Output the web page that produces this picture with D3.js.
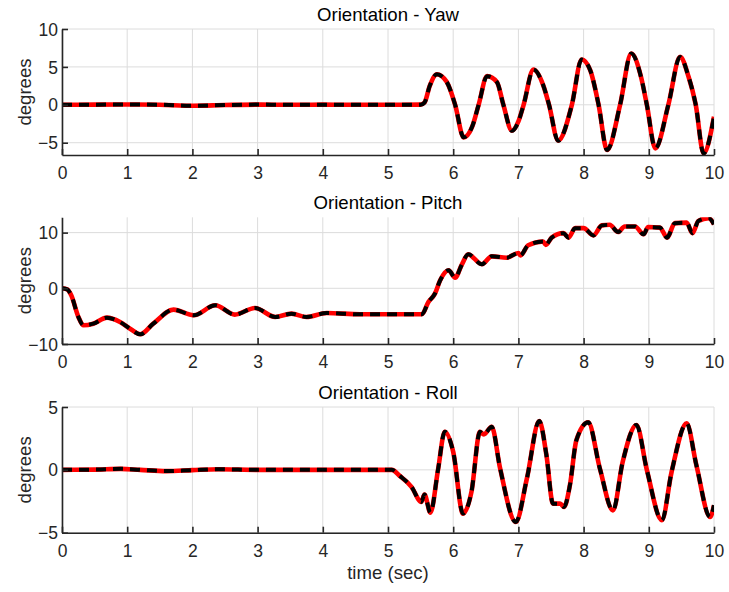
<!DOCTYPE html>
<html>
<head>
<meta charset="utf-8">
<script src="https://cdn.jsdelivr.net/npm/d3@7"></script>
<style>
  html, body { margin: 0; padding: 0; background: #fff; }
  svg { display: block; font-family: "Liberation Sans", Arial, Helvetica, sans-serif; }
</style>
</head>
<body>
<svg id="chart" width="729" height="592"></svg>
<script>
// ---- Data ----
const xTicks = [0, 1, 2, 3, 4, 5, 6, 7, 8, 9, 10];
const titles = ["Orientation - Yaw", "Orientation - Pitch", "Orientation - Roll"];
const yLabel = "degrees";
const xLabel = "time (sec)";

const yawTicks = [-5, 0, 5, 10];
const yawTime = [0, 0.5, 1, 1.5, 2, 2.5, 3, 3.5, 4, 4.5, 5, 5.5, 5.56, 5.64, 5.75, 5.9, 6.03, 6.16, 6.29, 6.39, 6.52, 6.67, 6.77, 6.9, 7.0, 7.08, 7.23, 7.38, 7.47, 7.61, 7.82, 7.97, 8.1, 8.23, 8.36, 8.56, 8.73, 8.88, 8.97, 9.1, 9.3, 9.48, 9.61, 9.72, 9.84, 10];
const yawValues = [0, 0.02, 0.05, 0.01, -0.12, -0.03, 0.03, 0, 0.02, 0, 0, 0.02, 0.3, 2.5, 4.04, 3.03, 0, -4.29, -2.9, 0, 3.78, 3.0, 0, -3.42, -2.2, 0, 4.65, 2.6, 0, -4.73, 0, 5.97, 4.6, 0, -5.96, 0, 6.76, 3.7, 0, -5.74, 0, 6.32, 3.7, 0, -6.4, -1.58];

const pitchTicks = [-10, 0, 10];
const pitchTime = [0, 0.08, 0.14, 0.25, 0.33, 0.48, 0.69, 0.89, 1.05, 1.2, 1.4, 1.71, 2.02, 2.35, 2.65, 2.96, 3.27, 3.52, 3.75, 4.06, 4.57, 5.0, 5.52, 5.62, 5.72, 5.8, 5.93, 6.03, 6.13, 6.23, 6.44, 6.59, 6.82, 7.0, 7.03, 7.15, 7.38, 7.42, 7.51, 7.69, 7.77, 7.87, 8.0, 8.15, 8.28, 8.4, 8.53, 8.63, 8.79, 8.92, 8.99, 9.17, 9.28, 9.4, 9.58, 9.67, 9.76, 9.92, 10];
const pitchValues = [0, -0.2, -1.2, -5.1, -6.64, -6.35, -5.27, -6.05, -7.3, -8.26, -6.35, -3.83, -4.85, -3.05, -4.73, -3.53, -5.15, -4.55, -5.15, -4.43, -4.67, -4.67, -4.67, -2.45, -0.96, 1.44, 3.23, 1.91, 4.2, 6.1, 4.31, 5.74, 5.5, 6.34, 5.9, 7.72, 8.4, 7.8, 9.1, 9.9, 9.1, 10.8, 10.8, 9.5, 11.3, 11.4, 10.1, 11.1, 11.1, 9.7, 11.0, 10.9, 9.1, 11.7, 11.8, 9.9, 12.1, 12.6, 11.5];

const rollTicks = [-5, 0, 5];
const rollTime = [0, 0.5, 0.9, 1.2, 1.6, 2.0, 2.4, 3.0, 3.5, 4.0, 4.5, 5.06, 5.18, 5.36, 5.51, 5.56, 5.65, 5.77, 5.87, 6.0, 6.15, 6.28, 6.41, 6.47, 6.59, 6.72, 6.96, 7.13, 7.32, 7.43, 7.53, 7.64, 7.7, 7.79, 7.89, 8.07, 8.25, 8.45, 8.6, 8.81, 8.97, 9.2, 9.35, 9.58, 9.73, 9.94, 10];
const rollValues = [0, 0.02, 0.08, 0, -0.1, -0.02, 0.05, 0, 0, 0, 0, 0, -0.48, -1.35, -2.55, -1.97, -3.4, 0.1, 3.03, 1.43, -3.48, -1.75, 3.03, 2.82, 3.43, 0.1, -4.15, -0.7, 3.88, 1.17, -2.69, -2.69, -2.95, -1.22, 2.37, 3.78, 0.1, -3.22, 0.64, 3.57, 0, -4.0, -0.16, 3.7, 0.37, -3.75, -2.82];

// ---- Layout ----
const svg = d3.select("#chart");
const x = d3.scaleLinear().domain([0, 10]).range([62, 714]);

const panels = [
  { title: titles[0], time: yawTime, values: yawValues, ticks: yawTicks, domain: [-6.62, 10], top: 29, bottom: 155 },
  { title: titles[1], time: pitchTime, values: pitchValues, ticks: pitchTicks, domain: [-10, 12.75], top: 217.3, bottom: 344 },
  { title: titles[2], time: rollTime, values: rollValues, ticks: rollTicks, domain: [-5, 5], top: 407, bottom: 532.7 }
];

const gridColor = "#dcdcdc";
const axisColor = "#262626";
const tickFont = 17.5;
const labelFont = 18.6;

panels.forEach((p, i) => {
  const y = d3.scaleLinear().domain(p.domain).range([p.bottom, p.top]);
  const g = svg.append("g");
  const clipId = "clip" + i;
  svg.append("clipPath").attr("id", clipId).append("rect")
    .attr("x", x(0)).attr("y", p.top).attr("width", x(10) - x(0)).attr("height", p.bottom - p.top);

  // grid
  g.append("g").selectAll("line").data(xTicks).join("line")
    .attr("x1", d => x(d)).attr("x2", d => x(d))
    .attr("y1", p.top).attr("y2", p.bottom)
    .attr("stroke", gridColor).attr("stroke-width", 1);
  g.append("g").selectAll("line").data(p.ticks).join("line")
    .attr("x1", x(0)).attr("x2", x(10))
    .attr("y1", d => y(d)).attr("y2", d => y(d))
    .attr("stroke", gridColor).attr("stroke-width", 1);

  // data lines
  const pts = p.time.map((t, k) => [t, p.values[k]]);
  const line = d3.line().x(d => x(d[0])).y(d => y(d[1])).curve(d3.curveMonotoneX);
  const lg = g.append("g").attr("clip-path", `url(#${clipId})`);
  lg.append("path").datum(pts).attr("d", line)
    .attr("fill", "none").attr("stroke", "#ff0000").attr("stroke-width", 4.6)
    .attr("stroke-linejoin", "round");
  lg.append("path").datum(pts).attr("d", line)
    .attr("fill", "none").attr("stroke", "#000000").attr("stroke-width", 4)
    .attr("stroke-dasharray", "10,7");

  // axes
  const xAxis = d3.axisBottom(x).tickValues(xTicks).tickFormat(d3.format("d")).tickSizeInner(-6).tickSizeOuter(0).tickPadding(12);
  const ax = g.append("g").attr("transform", `translate(0,${p.bottom})`).call(xAxis);
  const yAxis = d3.axisLeft(y).tickValues(p.ticks).tickFormat(d3.format("d")).tickSizeInner(-6).tickSizeOuter(0).tickPadding(4);
  const ay = g.append("g").attr("transform", `translate(${x(0)},0)`).call(yAxis);
  [ax, ay].forEach(a => {
    a.select(".domain").attr("stroke", axisColor).attr("stroke-width", 1.6);
    a.selectAll(".tick line").attr("stroke", axisColor).attr("stroke-width", 1.6);
    a.selectAll(".tick text").attr("fill", "#262626").attr("font-size", tickFont)
      .attr("font-family", "'Liberation Sans', Arial, sans-serif");
  });
  ay.selectAll(".tick text").attr("x", -4).attr("dy", "0.35em");
  ax.selectAll(".tick text").attr("dy", "0.71em");

  // title
  svg.append("text").attr("x", (x(0) + x(10)) / 2).attr("y", p.top - 8.5)
    .attr("text-anchor", "middle").attr("font-size", labelFont).attr("fill", "#000")
    .text(p.title);
  // y label
  svg.append("text")
    .attr("transform", `translate(${31},${(p.top + p.bottom) / 2}) rotate(-90)`)
    .attr("text-anchor", "middle").attr("font-size", labelFont).attr("fill", "#262626")
    .text(yLabel);
});

svg.append("text").attr("x", (x(0) + x(10)) / 2).attr("y", 579)
  .attr("text-anchor", "middle").attr("font-size", labelFont).attr("fill", "#262626")
  .text(xLabel);
</script>
</body>
</html>
